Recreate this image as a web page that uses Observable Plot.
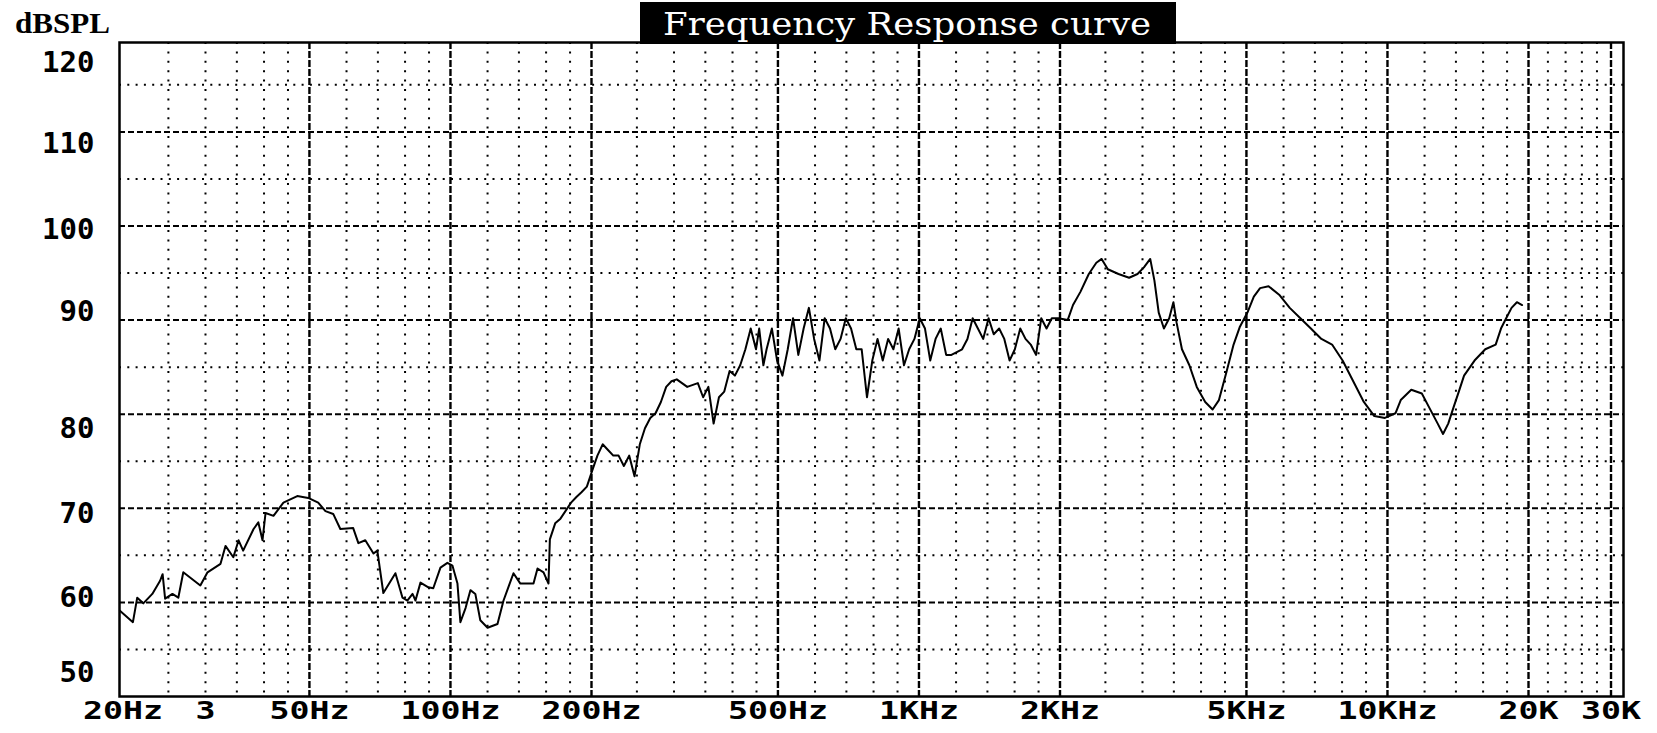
<!DOCTYPE html>
<html>
<head>
<meta charset="utf-8">
<script src="https://cdn.jsdelivr.net/npm/d3@7"></script>
<script src="https://cdn.jsdelivr.net/npm/@observablehq/plot@0.6"></script>
<style>
  html, body { margin: 0; padding: 0; background: #fff; }
  #chart { width: 1657px; height: 733px; }
</style>
</head>
<body>
<div id="chart"></div>
<script>
// Frequency response (Hz) and sound pressure level (dB SPL)
const freq = [
  19.7, 21.0, 21.45, 22.1, 23.1, 24.0, 24.3, 24.6, 25.5, 26.25, 26.9, 29.25, 30.3, 32.3, 33.1, 34.4, 35.3, 36.1,
  38.0, 38.9, 39.7, 40.3, 41.9, 44.0, 47.1, 49.7, 52.2, 54.1, 56.2, 58.2, 62.0, 63.6, 65.8, 68.5, 69.8, 71.9,
  76.3, 79.0, 80.9, 83.0, 84.2, 86.3, 89.7, 91.9, 95.2, 98.5, 101, 103.5, 105, 107.7, 110.3, 113, 115.8, 120,
  126, 129.8, 136.3, 141, 150.4, 153.4, 158, 161.9,
  163, 167.3, 171.7, 180.9, 185.7, 190.4, 195.5, 200.7, 205.9, 211.3, 216.9, 222.6, 228.5, 234.5, 240.7, 247.1,
  253.6, 260.1, 267, 274, 281.3, 288.7, 296.3, 304.1, 320.2, 337.3, 346.2, 355.2, 364.5, 374.2, 384.1, 394.3,
  404.7, 415.4, 426.1, 437.4, 448.9, 456, 465.5, 472.9, 485.4, 498, 511.2, 524.7, 538.5, 552.7, 567.3, 582.2,
  597.3, 613.1, 629.2, 645.8, 662.8, 680.2, 698, 716.2, 735, 754.6, 774.5, 795, 815.7, 837, 859.3, 881.9,
  905, 929, 953, 978, 1004, 1030, 1057, 1085, 1113, 1143, 1173, 1236, 1269, 1302, 1336, 1371,
  1408, 1444, 1483, 1521, 1561, 1602, 1645, 1688, 1732, 1778, 1824, 1872, 1921,
  1984, 2077, 2132, 2211, 2304, 2391, 2454, 2530, 2666, 2809, 2927, 3021, 3116, 3181, 3249, 3333,
  3421, 3492, 3548, 3642, 3777, 3917, 4083, 4234, 4368, 4528, 4694, 4842, 5024, 5185, 5347, 5574,
  5872, 6186, 6518, 6863, 7228, 7616, 8021, 8451, 8903, 9374, 9876, 10400, 10674, 11240, 11840,
  12280, 12800, 13140, 13480, 13830, 14200, 14570, 15340, 16170, 17020, 17470, 17920, 18400, 18890, 19380
];
const spl = [
  59.1, 57.9, 60.5, 59.9, 60.9, 62.3, 63.0, 60.4, 60.9, 60.5, 63.2, 61.8, 63.2, 64.1, 66.0, 64.8, 66.6, 65.5,
  67.8, 68.5, 66.6, 69.5, 69.2, 70.6, 71.3, 71.1, 70.6, 69.7, 69.4, 67.8, 67.9, 66.3, 66.6, 65.2, 65.5, 61.0,
  63.1, 60.5, 60.2, 60.9, 60.2, 62.1, 61.6, 61.5, 63.7, 64.2, 63.9, 62.0, 57.9, 59.4, 61.3, 60.9, 58.1, 57.3,
  57.7, 60.2, 63.1, 62.0, 62.0, 63.6, 63.2, 62.0,
  66.7, 68.4, 68.9, 70.6, 71.2, 71.7, 72.3, 74.0, 75.6, 76.8, 76.2, 75.6, 75.6, 74.5, 75.6, 73.4,
  76.8, 78.5, 79.6, 80.1, 81.3, 82.9, 83.5, 83.7, 82.9, 83.3, 81.8, 82.9, 79.0, 81.8, 82.4, 84.6,
  84.1, 85.2, 86.9, 89.1, 86.9, 89.1, 85.2, 86.9, 89.1, 85.7, 84.1, 86.9, 90.2, 86.3, 89.1, 91.3,
  88.0, 85.7, 90.2, 89.1, 86.9, 88.0, 90.2, 89.1, 86.9, 86.9, 81.8, 85.7, 88.0, 85.7, 88.0, 86.9,
  89.1, 85.2, 86.9, 88.0, 90.2, 89.1, 85.7, 88.0, 89.1, 86.3, 86.3, 86.9, 88.0, 90.2, 89.1, 88.0,
  90.2, 88.5, 89.1, 88.0, 85.7, 86.9, 89.1, 88.0, 87.4, 86.3, 90.2, 89.1, 90.2,
  90.2, 90.0, 91.6, 93.0, 94.9, 96.1, 96.5, 95.4, 94.9, 94.5, 94.9, 95.6, 96.5, 94.2, 90.8, 89.1,
  90.2, 91.9, 89.7, 86.9, 85.2, 82.9, 81.3, 80.5, 81.5, 84.4, 87.4, 89.3, 90.8, 92.5, 93.4, 93.6,
  92.7, 91.3, 90.2, 89.1, 88.0, 87.4, 85.7, 83.5, 81.3, 79.8, 79.6, 80.1, 81.5, 82.6, 82.2,
  80.7, 79.0, 77.9, 79.0, 80.7, 82.4, 84.1, 85.7, 86.9, 87.4, 89.1, 90.2, 91.3, 91.9, 91.6
];

// Axis ticks and labels
const xTickValues = [20, 30, 50, 100, 200, 500, 1000, 2000, 5000, 10000, 20000, 30000];
const xTickLabels = ["20Hz", "3", "50Hz", "100Hz", "200Hz", "500Hz", "1KHz", "2KHz", "5KHz", "10KHz", "20K", "30K"];
const majorFreqs = [50, 100, 200, 500, 1000, 2000, 5000, 10000, 20000, 30000];
const minorFreqs = [25, 30, 35, 40, 45, 60, 70, 80, 90, 120, 140, 160, 180, 250, 300, 350, 400, 450,
  600, 700, 800, 900, 1200, 1400, 1600, 1800, 2500, 3000, 3500, 4000, 4500, 6000, 7000, 8000, 9000,
  12000, 14000, 16000, 18000, 22000, 24000, 26000, 28000];
const majorDb = [60, 70, 80, 90, 100, 110];
const minorDb = [55, 65, 75, 85, 95, 105, 115];
const yTickValues = [120, 110, 100, 90, 80, 70, 60, 50];

const title = "Frequency Response curve";
const yUnit = "dBSPL";

const data = freq.map((f, i) => ({f, db: spl[i]}));
const clampDb = d => Math.max(52.5, Math.min(117.3, d));
// small vertical nudges of the printed y labels (pixels), as in the printout
const yLabelNudge = {120: 0, 110: 12, 100: 4, 90: -8, 80: 15, 70: 5, 60: -5, 50: 0};

const yLabelMarks = yTickValues.map(v => Plot.text([v], {
  y: d => clampDb(d), text: d => String(d), frameAnchor: "left", dx: -25, dy: yLabelNudge[v], textAnchor: "end",
  fontFamily: "DejaVu Sans Mono", fontWeight: "bold", fontSize: 29, fill: "black"
}));

const chart = Plot.plot({
  width: 1657,
  height: 733,
  marginLeft: 119,
  marginRight: 34,
  marginTop: 42,
  marginBottom: 37,
  style: {background: "white", overflow: "visible"},
  x: {type: "log", domain: [19.66, 31900], axis: null},
  y: {domain: [50, 119.5], axis: null},
  marks: [
    Plot.ruleY(minorDb, {stroke: "black", strokeWidth: 2, strokeDasharray: "2,6.3"}),
    Plot.ruleX(minorFreqs, {stroke: "black", strokeWidth: 2, strokeDasharray: "2,7.4"}),
    Plot.ruleY(majorDb, {stroke: "black", strokeWidth: 2, strokeDasharray: "6,3"}),
    Plot.ruleX(majorFreqs, {stroke: "black", strokeWidth: 2.4, strokeDasharray: "7,2"}),
    Plot.line(data, {x: "f", y: "db", stroke: "black", strokeWidth: 2}),
    Plot.frame({stroke: "black", strokeWidth: 2.5}),
    Plot.text(xTickValues, {
      x: d => d, text: (d, i) => xTickLabels[i], frameAnchor: "bottom", dy: 22, lineAnchor: "bottom",
      fontFamily: "DejaVu Sans Mono", fontWeight: "bold", fontSize: 25, fill: "black"
    }),
    ...yLabelMarks
  ]
});

const svg = d3.select(chart);
svg.selectAll("text").filter(function() { return xTickLabels.includes(this.textContent); }).each(function() {
  const n = this.textContent.length;
  this.setAttribute("textLength", n * 20);
  this.setAttribute("lengthAdjust", "spacingAndGlyphs");
});
svg.append("rect").attr("x", 640).attr("y", 2).attr("width", 536).attr("height", 42).attr("fill", "black");
svg.append("text").attr("x", 907).attr("y", 35).attr("text-anchor", "middle").attr("fill", "white")
  .attr("font-family", "DejaVu Serif").attr("font-size", 31)
  .attr("textLength", 488).attr("lengthAdjust", "spacingAndGlyphs").text(title);
svg.append("text").attr("x", 15).attr("y", 33).attr("text-anchor", "start").attr("fill", "black")
  .attr("font-family", "Liberation Serif").attr("font-weight", "bold").attr("font-size", 29)
  .attr("textLength", 95).attr("lengthAdjust", "spacingAndGlyphs").text(yUnit);

document.getElementById("chart").appendChild(chart);
</script>
</body>
</html>
